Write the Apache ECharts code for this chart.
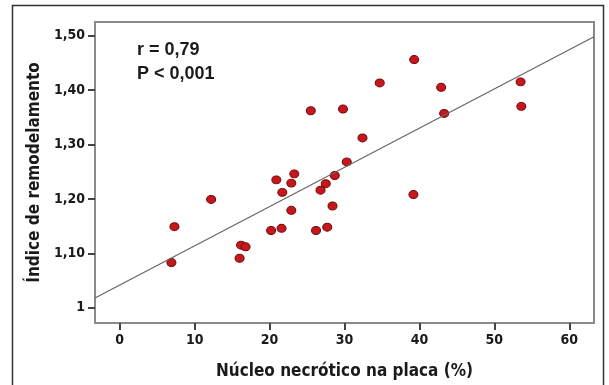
<!DOCTYPE html>
<html>
<head>
<meta charset="utf-8">
<script src="https://cdn.jsdelivr.net/npm/echarts@6/dist/echarts.min.js"></script>
<style>
  html, body { margin: 0; padding: 0; background: #fff; }
  #chart { width: 609px; height: 385px; }
</style>
</head>
<body>
<div id="chart"></div>
<script>
// núcleo necrótico (%) x índice de remodelamento
const necroticCore = [39.3, 34.7, 42.9, 53.5, 53.6, 43.3, 25.5, 29.8, 32.4, 30.3,
    28.7, 23.3, 20.9, 22.9, 27.5, 21.7, 26.8, 39.2, 12.2, 28.4,
    22.9, 7.3, 20.2, 21.6, 26.2, 27.7, 16.2, 16.8, 16.0, 6.9];
const remodIndex = [1.456, 1.413, 1.405, 1.415, 1.370, 1.357, 1.362, 1.365, 1.312, 1.268,
    1.243, 1.246, 1.235, 1.229, 1.228, 1.212, 1.216, 1.208, 1.199, 1.187,
    1.179, 1.149, 1.142, 1.146, 1.142, 1.148, 1.115, 1.112, 1.091, 1.083];

// regression line ends
const fitX = [-3.3, 63.3];
const fitY = [1.018, 1.498];

const xTicks = [0, 10, 20, 30, 40, 50, 60];
const yTicks = [1, 1.1, 1.2, 1.3, 1.4, 1.5];

const xMin = -3.3, xMax = 63.3;
const yMin = 0.972, yMax = 1.525;

const labelFont = "'Liberation Sans Narrow', 'DejaVu Sans Condensed', sans-serif";

function yLabel(v) {
    if (Math.abs(v - 1) < 1e-6) return '1';
    return v.toFixed(2).replace('.', ',');
}

var points = [];
for (var i = 0; i < necroticCore.length; i++) {
    points.push([necroticCore[i], remodIndex[i]]);
}
var fitLine = [];
for (var j = 0; j < fitX.length; j++) {
    fitLine.push([fitX[j], fitY[j]]);
}

var chartDom = document.getElementById('chart');
var myChart = echarts.init(chartDom, null, { renderer: 'canvas' });

var frameColor = '#8a8a8a';

var option = {
    animation: false,
    backgroundColor: '#fff',
    grid: { left: 95, right: 15, top: 22, bottom: 58, show: true, borderColor: frameColor, borderWidth: 2 },
    graphic: [
        {
            id: 'outer',
            type: 'polyline',
            shape: { points: [[12.5, 390], [12.5, 5.5], [603.5, 5.5], [603.5, 390]] },
            style: { fill: null, stroke: '#333', lineWidth: 1.5 },
            silent: true
        },
        {
            id: 'r', type: 'text', left: 137, top: 41,
            style: { text: 'r = 0,79', font: "bold 18px 'Liberation Sans', Arial, sans-serif", fill: '#1a1a1a' }
        },
        {
            id: 'p', type: 'text', left: 137, top: 65,
            style: { text: 'P < 0,001', font: "bold 18px 'Liberation Sans', Arial, sans-serif", fill: '#1a1a1a' }
        }
    ],
    xAxis: {
        type: 'value',
        min: xMin,
        max: xMax,
        name: 'Núcleo necrótico na placa (%)',
        nameLocation: 'middle',
        nameGap: 40,
        nameTextStyle: { fontFamily: labelFont, fontWeight: 'bold', fontSize: 17, color: '#1a1a1a' },
        axisLine: { show: true, onZero: false, lineStyle: { color: frameColor, width: 2 } },
        splitLine: { show: false },
        axisTick: { show: true, inside: false, length: 7, customValues: xTicks, lineStyle: { color: '#444', width: 2 } },
        axisLabel: { fontFamily: labelFont, fontWeight: 'bold', fontSize: 14, color: '#1a1a1a', margin: 10, customValues: xTicks }
    },
    yAxis: {
        type: 'value',
        min: yMin,
        max: yMax,
        name: 'Índice de remodelamento',
        nameLocation: 'middle',
        nameGap: 48,
        nameTextStyle: { fontFamily: labelFont, fontWeight: 'bold', fontSize: 17, color: '#1a1a1a' },
        axisLine: { show: true, onZero: false, lineStyle: { color: frameColor, width: 2 } },
        splitLine: { show: false },
        axisTick: { show: true, inside: false, length: 7, customValues: yTicks, lineStyle: { color: '#444', width: 2 } },
        axisLabel: { fontFamily: labelFont, fontWeight: 'bold', fontSize: 14, color: '#1a1a1a', margin: 10,
            customValues: yTicks, formatter: yLabel }
    },
    series: [
        {
            type: 'line',
            data: fitLine,
            symbol: 'none',
            lineStyle: { color: '#666', width: 1.2 },
            silent: true
        },
        {
            type: 'scatter',
            data: points,
            symbol: 'circle',
            symbolSize: [9, 8],
            itemStyle: { color: '#c8161d', borderColor: '#6e0b0b', borderWidth: 1, opacity: 1 }
        }
    ]
};
option && myChart.setOption(option);
</script>
</body>
</html>
